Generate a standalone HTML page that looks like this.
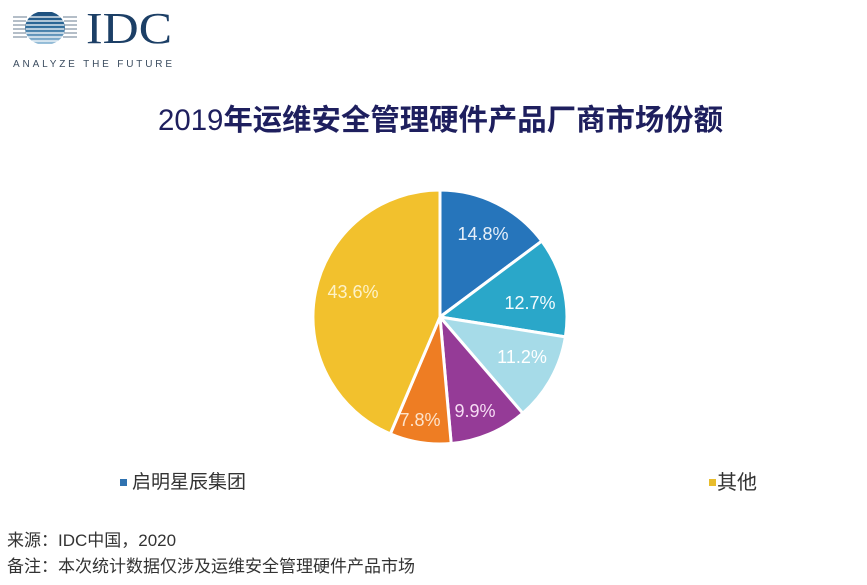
<!DOCTYPE html>
<html>
<head>
<meta charset="utf-8">
<style>
html,body{margin:0;padding:0;background:#fff;}
body{width:867px;height:585px;position:relative;overflow:hidden;font-family:"Liberation Sans","Noto Sans CJK SC",sans-serif;}
.abs{position:absolute;white-space:nowrap;}
</style>
</head>
<body>
<svg class="abs" style="left:0;top:0" width="867" height="585" viewBox="0 0 867 585">
  <defs>
    <clipPath id="cc"><ellipse cx="45" cy="28" rx="20" ry="17"/></clipPath>
    <linearGradient id="lg" x1="0" y1="0" x2="0" y2="1">
      <stop offset="0" stop-color="#1d4f7c"/>
      <stop offset="0.45" stop-color="#2f6d9c"/>
      <stop offset="1" stop-color="#9cc2dc"/>
    </linearGradient>
  </defs>
  <g>
    <rect x="24" y="12" width="42" height="32" fill="url(#lg)" clip-path="url(#cc)"/>
    <g stroke="#fff" stroke-width="1.3" clip-path="url(#cc)">
      <line x1="20" y1="17" x2="70" y2="17"/>
      <line x1="20" y1="21" x2="70" y2="21"/>
      <line x1="20" y1="25" x2="70" y2="25"/>
      <line x1="20" y1="29" x2="70" y2="29"/>
      <line x1="20" y1="33" x2="70" y2="33"/>
      <line x1="20" y1="37" x2="70" y2="37"/>
      <line x1="20" y1="41" x2="70" y2="41"/>
    </g>
    <g stroke="#6a7c90" stroke-width="1">
      <line x1="13" y1="17" x2="27" y2="17"/>
      <line x1="63" y1="17" x2="77" y2="17"/>
      <line x1="13" y1="21" x2="26" y2="21"/>
      <line x1="64" y1="21" x2="77" y2="21"/>
      <line x1="13" y1="25" x2="26" y2="25"/>
      <line x1="64" y1="25" x2="77" y2="25"/>
      <line x1="13" y1="29" x2="26" y2="29"/>
      <line x1="64" y1="29" x2="77" y2="29"/>
      <line x1="13" y1="33" x2="26" y2="33"/>
      <line x1="64" y1="33" x2="77" y2="33"/>
      <line x1="13" y1="37" x2="27" y2="37"/>
      <line x1="63" y1="37" x2="77" y2="37"/>
    </g>
    <text x="86" y="43" font-family="Liberation Serif, serif" font-size="44" fill="#1c3f66" textLength="86" lengthAdjust="spacingAndGlyphs">IDC</text>
    <text x="13" y="67" font-family="Liberation Sans, sans-serif" font-size="10" fill="#3c4d60" textLength="159" lengthAdjust="spacing">ANALYZE THE FUTURE</text>
  </g>

  <g stroke="#fff" stroke-width="3" stroke-linejoin="round">
    <path d="M440,317 L440,190 A127,127 0 0,1 541.8,241.1 Z" fill="#2675bb"/>
    <path d="M440,317 L541.8,241.1 A127,127 0 0,1 565.4,336.9 Z" fill="#2aa7c9"/>
    <path d="M440,317 L565.4,336.9 A127,127 0 0,1 522.8,413.3 Z" fill="#a6dbe8"/>
    <path d="M440,317 L522.8,413.3 A127,127 0 0,1 451.2,443.5 Z" fill="#953b97"/>
    <path d="M440,317 L451.2,443.5 A127,127 0 0,1 390.3,433.9 Z" fill="#ee7d23"/>
    <path d="M440,317 L390.3,433.9 A127,127 0 0,1 440,190 Z" fill="#f2c12d"/>
  </g>
  <g font-family="Liberation Sans, sans-serif" font-size="18" text-anchor="middle" dominant-baseline="central">
    <text x="483" y="234" fill="#e6eff9">14.8%</text>
    <text x="530" y="303" fill="#f4fbfd">12.7%</text>
    <text x="522" y="357" fill="#ffffff">11.2%</text>
    <text x="475" y="411" fill="#f6dcf4">9.9%</text>
    <text x="420" y="420" fill="#fde3cb">7.8%</text>
    <text x="353" y="292" fill="#fdf2c8">43.6%</text>
  </g>
</svg>

<div class="abs" style="left:158px;top:103px;font-size:29.4px;line-height:36px;color:#1e1f5e;font-family:'Liberation Sans','Noto Sans CJK SC',sans-serif;"><span style="font-weight:normal">2019</span><b>年运维安全管理硬件产品厂商市场份额</b></div>

<div class="abs" style="left:120px;top:479px;width:7px;height:7px;background:#2f72b0;"></div>
<div class="abs" style="left:132px;top:471px;font-size:19px;line-height:24px;color:#333;">启明星辰集团</div>

<div class="abs" style="left:709px;top:479px;width:7px;height:7px;background:#e8bd2d;"></div>
<div class="abs" style="left:717px;top:471px;font-size:20px;line-height:24px;color:#333;">其他</div>

<div class="abs" style="left:7px;top:531px;font-size:17px;line-height:20px;color:#333;">来源：IDC中国，2020</div>
<div class="abs" style="left:7px;top:557px;font-size:17px;line-height:20px;color:#333;">备注：本次统计数据仅涉及运维安全管理硬件产品市场</div>
</body>
</html>
